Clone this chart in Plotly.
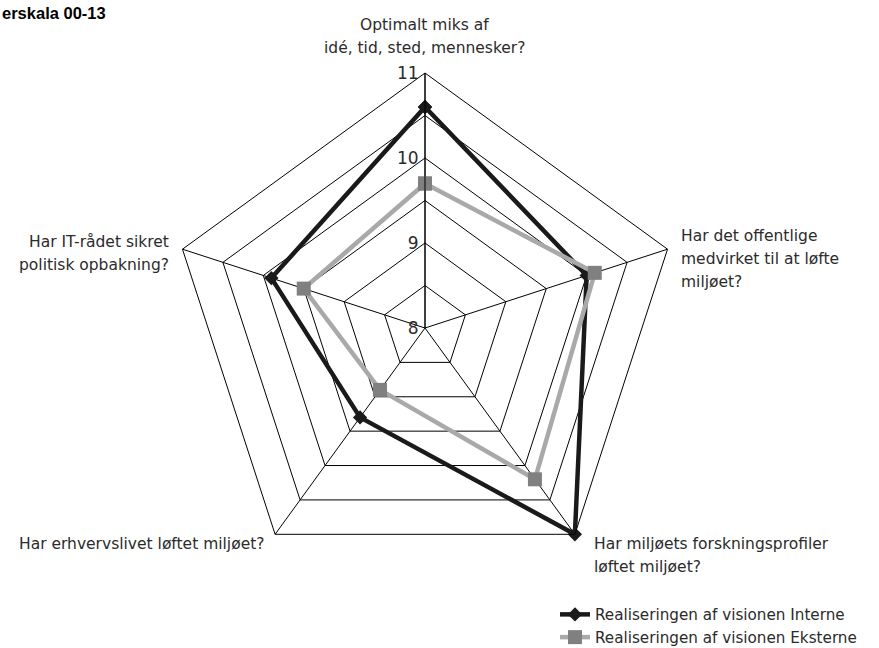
import plotly.graph_objects as go

categories = [
    "Optimalt miks af idé, tid, sted, mennesker?",
    "Har det offentlige medvirket til at løfte miljøet?",
    "Har miljøets forskningsprofiler løftet miljøet?",
    "Har erhvervslivet løftet miljøet?",
    "Har IT-rådet sikret politisk opbakning?",
]
interne = [10.6, 10.0, 11.0, 9.3, 9.9]
eksterne = [9.7, 10.1, 10.2, 8.9, 9.5]
series_names = ["Realiseringen af visionen Interne", "Realiseringen af visionen Eksterne"]
radial_ticks = [8, 8.5, 9, 9.5, 10, 10.5, 11]
radial_ticktext = ["8", "", "9", "", "10", "", "11"]
title_text = "erskala 00-13"

W, H = 879, 648
FONT = "DejaVu Sans, Verdana, sans-serif"
TXT = "#2b2b2b"

fig = go.Figure()
fig.add_trace(go.Scatterpolar(
    r=interne + interne[:1], theta=categories + categories[:1],
    mode="lines+markers", name=series_names[0],
    line=dict(color="#1a1a1a", width=4.5),
    marker=dict(symbol="diamond", size=11, color="#1a1a1a"),
))
fig.add_trace(go.Scatterpolar(
    r=eksterne + eksterne[:1], theta=categories + categories[:1],
    mode="lines+markers", name=series_names[1],
    line=dict(color="#a9a9a9", width=4.5),
    marker=dict(symbol="square", size=14, color="#808080"),
))

cx, cy, half = 425, 328, 255
fig.update_layout(
    width=W, height=H,
    margin=dict(l=0, r=0, t=0, b=0, autoexpand=False),
    paper_bgcolor="white",
    font=dict(family=FONT, color=TXT, size=15),
    polar=dict(
        domain=dict(x=[(cx - half) / W, (cx + half) / W],
                    y=[1 - (cy + half) / H, 1 - (cy - half) / H]),
        bgcolor="white",
        gridshape="linear",
        radialaxis=dict(
            range=[8, 11], tickvals=radial_ticks, ticktext=radial_ticktext,
            angle=90, tickangle=90, side="counterclockwise",
            showline=True, linecolor="black", linewidth=1,
            gridcolor="black", gridwidth=1, ticks="",
            tickfont=dict(size=17, color=TXT, family=FONT),
        ),
        angularaxis=dict(
            rotation=90, direction="clockwise",
            showticklabels=False, ticks="",
            showline=True, linecolor="black", linewidth=1,
            gridcolor="black", gridwidth=1,
        ),
    ),
    showlegend=True,
    legend=dict(
        x=555 / W, y=1 - 598 / H, xanchor="left", yanchor="top",
        font=dict(size=15.2, color=TXT, family=FONT),
        bgcolor="rgba(0,0,0,0)", tracegroupgap=0,
    ),
)

def ann(text, px, py, xanchor, size=15.5, bold=False):
    fig.add_annotation(
        text=f"<b>{text}</b>" if bold else text,
        x=px / W, y=1 - py / H, xref="paper", yref="paper",
        xanchor=xanchor, yanchor="middle", showarrow=False,
        font=dict(size=size, color="black" if bold else TXT,
                  family="Liberation Sans, Arial, sans-serif" if bold else FONT),
    )

ann(title_text, 0, 13, "left", size=16.5, bold=True)
ann("Optimalt miks af", 424, 25, "center")
ann("idé, tid, sted, mennesker?", 424, 48, "center")
ann("Har det offentlige", 679, 236, "left")
ann("medvirket til at løfte", 679, 259, "left")
ann("miljøet?", 679, 282, "left")
ann("Har miljøets forskningsprofiler", 592, 544, "left")
ann("løftet miljøet?", 592, 567, "left")
ann("Har erhvervslivet løftet miljøet?", 267, 544, "right")
ann("Har IT-rådet sikret", 171, 242, "right")
ann("politisk opbakning?", 171, 265, "right")

fig.write_html("out.html")
